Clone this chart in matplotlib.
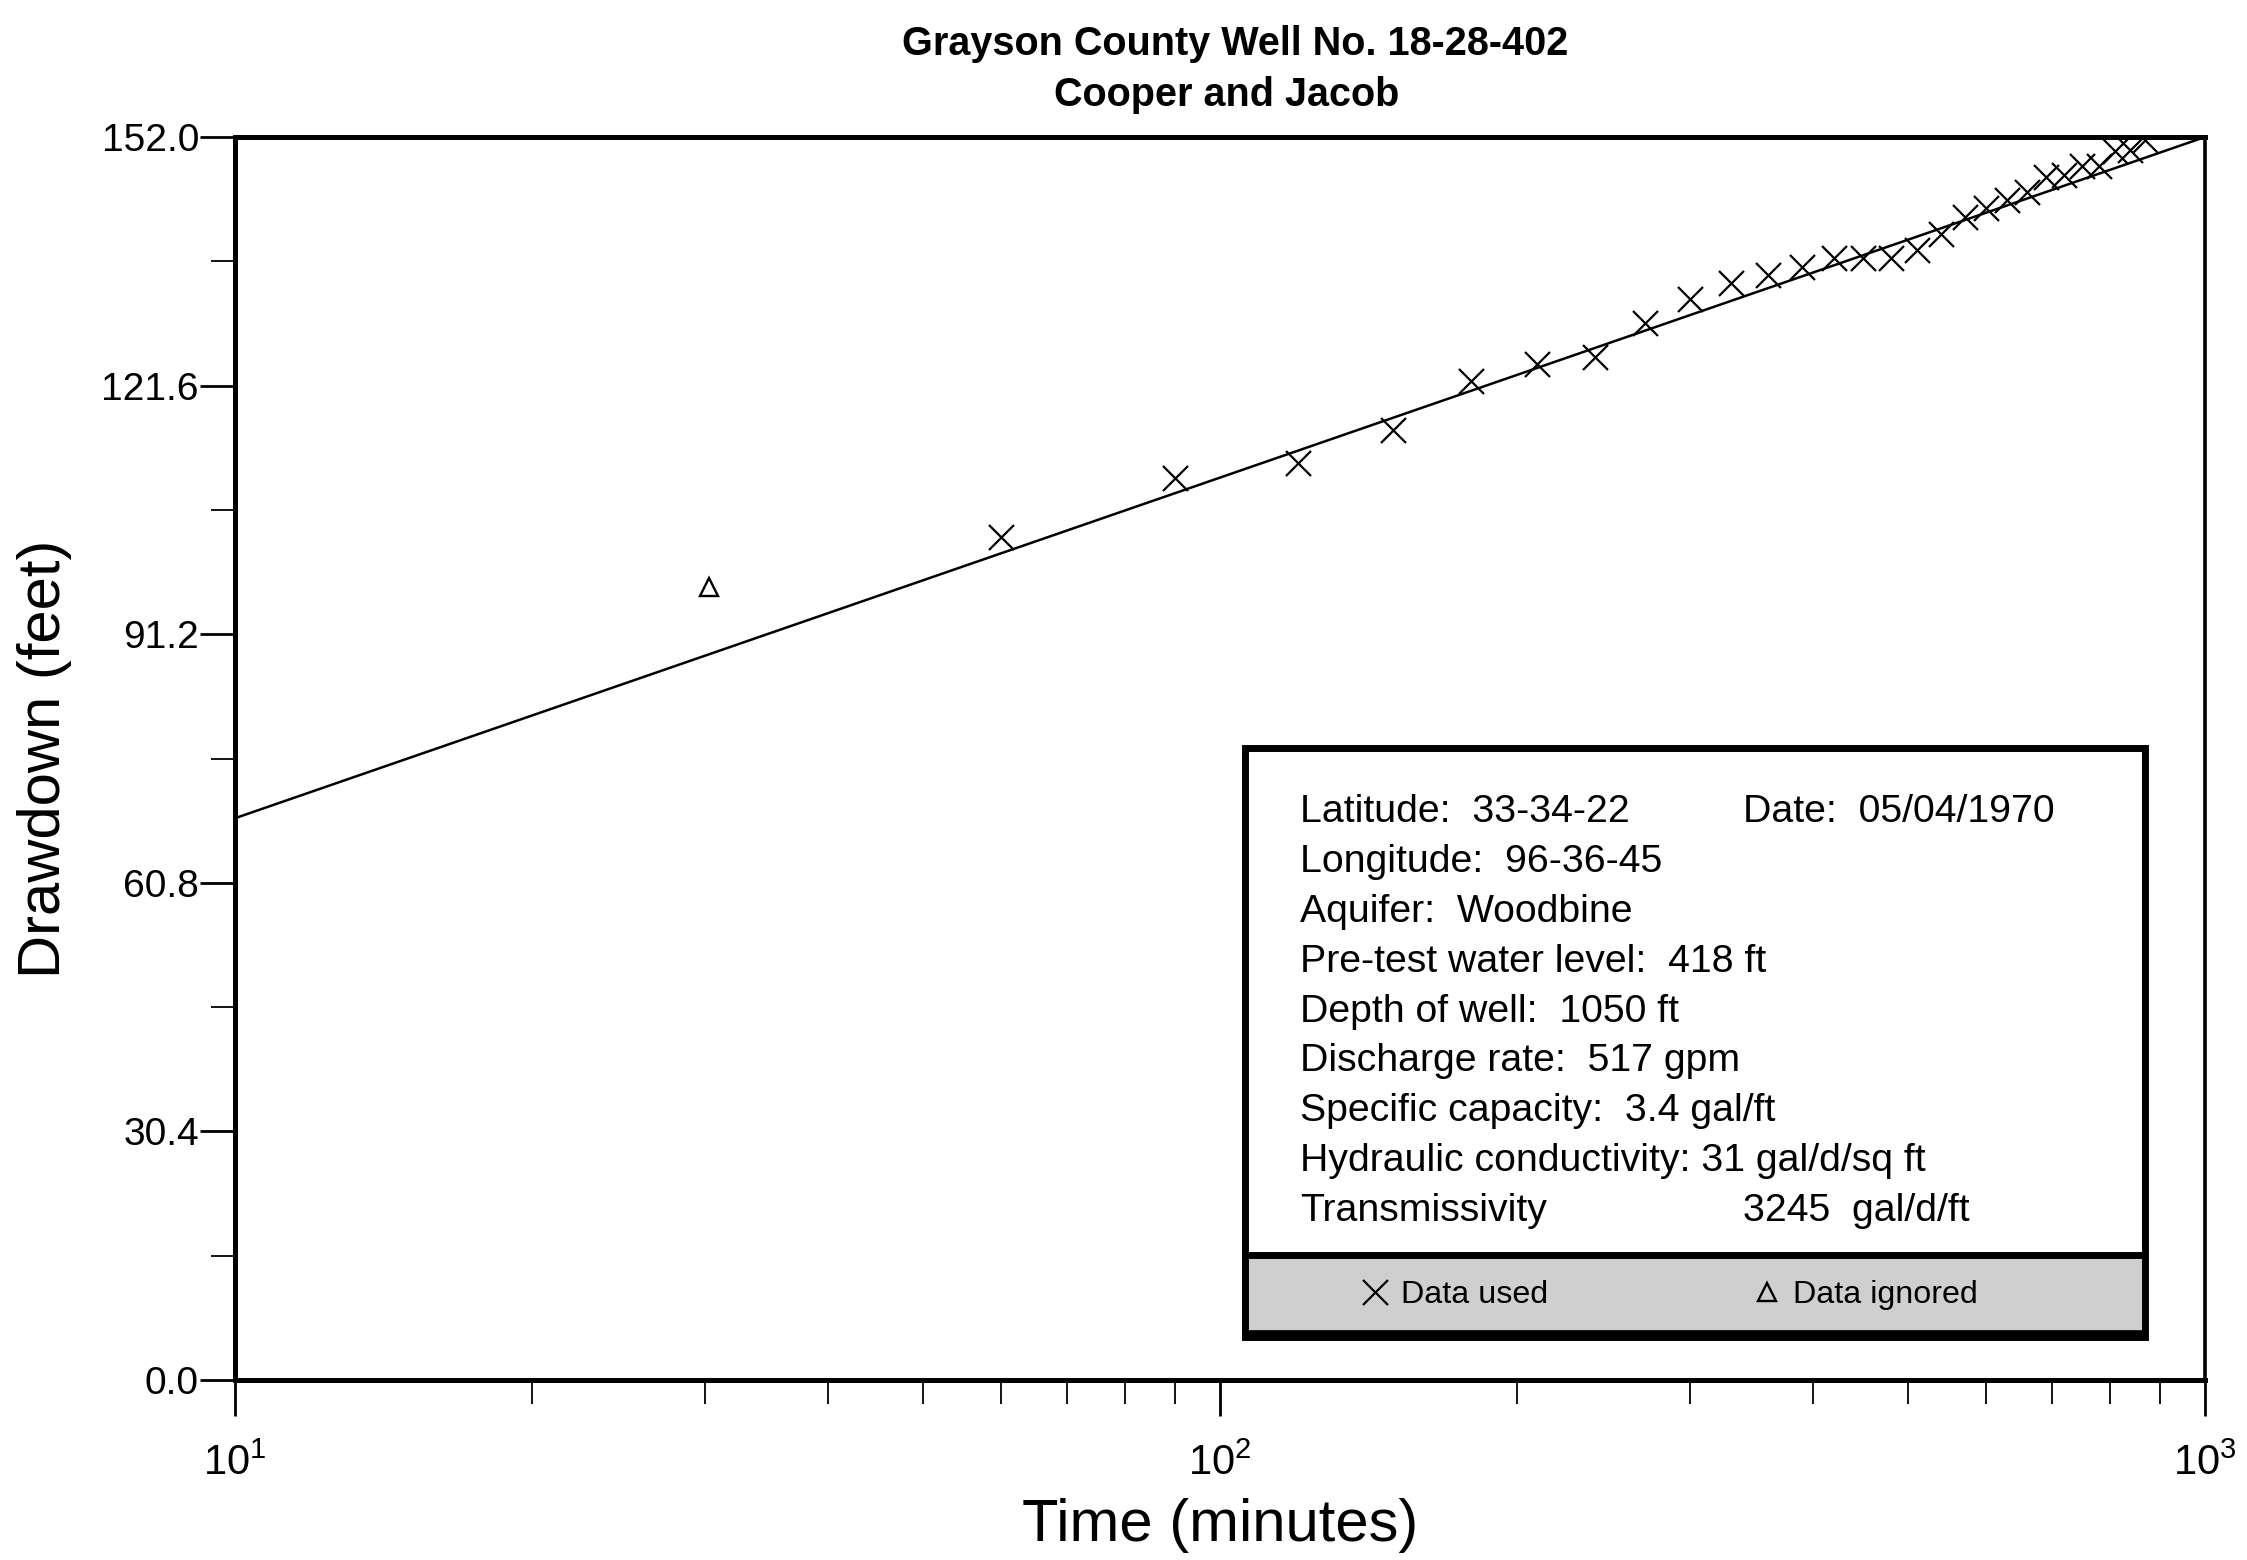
import matplotlib
matplotlib.use("Agg")
import matplotlib.pyplot as plt
from matplotlib.patches import Rectangle
from matplotlib.ticker import FixedLocator, FormatStrFormatter, LogLocator, NullFormatter

plt.rcParams['font.family'] = ['Liberation Sans', 'DejaVu Sans']
plt.rcParams['mathtext.fontset'] = 'custom'
plt.rcParams['mathtext.rm'] = 'Liberation Sans'

# ---------------- data ----------------
used_time = [60, 90, 120, 150, 180, 210, 240, 270, 300, 330, 360, 390, 420, 450,
             480, 510, 540, 570, 600, 630, 660, 690, 720, 750, 780, 810, 840, 870]
used_drawdown = [103.1, 110.3, 112.1, 116.2, 122.2, 124.2, 125.1, 129.2, 132.2, 134.1,
                 135.1, 136.1, 137.2, 137.2, 137.2, 138.2, 140.2, 142.2, 143.3, 144.3,
                 145.3, 147.1, 147.3, 148.4, 148.4, 150.3, 150.4, 151.6]
ignored_time = [30.3]
ignored_drawdown = [97.0]
fit_time = [10, 1000]
fit_drawdown = [68.7, 152.0]

y_ticks = [0.0, 30.4, 60.8, 91.2, 121.6, 152.0]
y_minor = [15.2, 45.6, 76.0, 106.4, 136.8]

title_lines = ["Grayson County Well No. 18-28-402", "Cooper and Jacob"]
x_label = "Time (minutes)"
y_label = "Drawdown (feet)"

info_left = ["Latitude:  33-34-22", "Longitude:  96-36-45", "Aquifer:  Woodbine",
             "Pre-test water level:  418 ft", "Depth of well:  1050 ft",
             "Discharge rate:  517 gpm", "Specific capacity:  3.4 gal/ft",
             "Hydraulic conductivity: 31 gal/d/sq ft", "Transmissivity"]
info_right = {0: "Date:  05/04/1970", 8: "3245  gal/d/ft"}
legend_labels = ["Data used", "Data ignored"]

# ---------------- figure ----------------
fig = plt.figure(figsize=(22.47, 15.60), dpi=100)
ax = fig.add_axes([0.10459, 0.11538, 0.87672, 0.79679])

ax.plot(fit_time, fit_drawdown, color='black', lw=1.8, zorder=3, clip_on=False)
h_used, = ax.plot(used_time, used_drawdown, linestyle='none', marker='x',
                  markersize=18, markeredgewidth=1.6, color='black', zorder=4)
h_ign, = ax.plot(ignored_time, ignored_drawdown, linestyle='none', marker='^',
                 markersize=13, markerfacecolor='none', markeredgewidth=1.7,
                 color='black', zorder=4)

ax.set_xscale('log')
ax.set_xlim(10, 1000)
ax.set_ylim(0, 152.0)

ax.yaxis.set_major_locator(FixedLocator(y_ticks))
ax.yaxis.set_minor_locator(FixedLocator(y_minor))
ax.yaxis.set_major_formatter(FormatStrFormatter('%.1f'))
ax.xaxis.set_minor_locator(LogLocator(base=10, subs=range(2, 10)))
ax.xaxis.set_minor_formatter(NullFormatter())

ax.tick_params(axis='y', which='major', direction='out', length=25, width=2,
               labelsize=28, pad=1)
ax.tick_params(axis='y', which='minor', direction='out', length=17, width=1.3)
ax.tick_params(axis='x', which='major', direction='out', length=26, width=2,
               labelsize=30, pad=20)
ax.tick_params(axis='x', which='minor', direction='out', length=17, width=1.3)
ax.tick_params(top=False, right=False, which='both')

for side in ['left', 'top', 'bottom']:
    ax.spines[side].set_linewidth(3.6)
ax.spines['right'].set_linewidth(2.6)

ax.set_xlabel(x_label, fontsize=43, labelpad=10)
ax.set_ylabel(y_label, fontsize=43, labelpad=21)

fig.text(0.5495, 0.972, title_lines[0], ha='center', va='center',
         fontsize=28.5, fontweight='bold')
fig.text(0.546, 0.939, title_lines[1], ha='center', va='center',
         fontsize=28.5, fontweight='bold')

# ---------------- info box ----------------
bx0, bx1 = 0.5127, 0.9695
by0, by1 = 0.0346, 0.5085
strip_top = 0.1005
ax.add_patch(Rectangle((bx0, by0), bx1 - bx0, by1 - by0, transform=ax.transAxes,
                       facecolor='white', edgecolor='none', zorder=5))
ax.add_patch(Rectangle((bx0, by0), bx1 - bx0, strip_top - by0, transform=ax.transAxes,
                       facecolor='#cfcfcf', edgecolor='none', zorder=5))
ax.add_patch(Rectangle((bx0, by0), bx1 - bx0, by1 - by0, transform=ax.transAxes,
                       facecolor='none', edgecolor='black', lw=5, zorder=6))
ax.plot([bx0, bx1], [strip_top, strip_top], transform=ax.transAxes, color='black',
        lw=5, zorder=6, solid_capstyle='butt')
ax.plot([bx0, bx1], [by0 + 0.002, by0 + 0.002], transform=ax.transAxes, color='black',
        lw=7, zorder=6, solid_capstyle='butt')

y0, dy = 0.4566, 0.04006
for i, line in enumerate(info_left):
    ax.text(0.5406, y0 - i * dy, line, transform=ax.transAxes, fontsize=28.3,
            va='center', ha='left', zorder=7)
for i, line in info_right.items():
    ax.text(0.7655, y0 - i * dy, line, transform=ax.transAxes, fontsize=28.3,
            va='center', ha='left', zorder=7)

leg = ax.legend([h_used, h_ign], legend_labels, loc='center',
                bbox_to_anchor=(0.7274, 0.0684), ncol=2, frameon=False,
                fontsize=23.2, handlelength=1.0, handletextpad=0.3,
                columnspacing=6.3, borderpad=0, markerscale=1.0)
leg.set_zorder(8)

fig.savefig('out.png', dpi=100, facecolor='white')
